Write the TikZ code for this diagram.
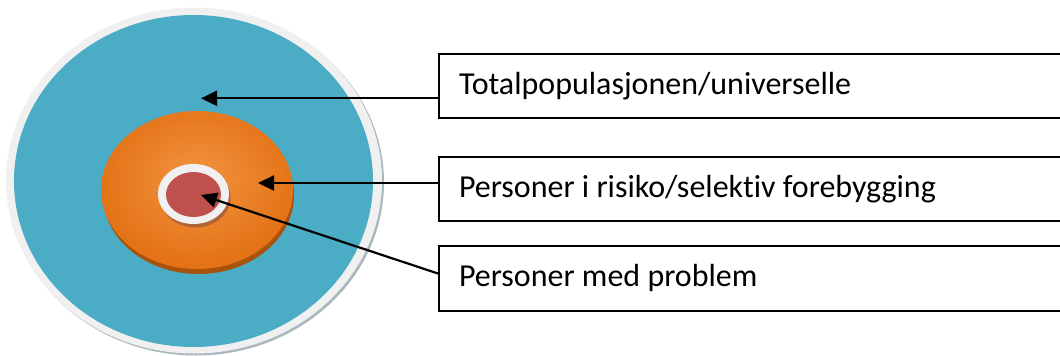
\documentclass[tikz,border=0pt]{standalone}
\usepackage{fontspec}
\setmainfont{Carlito}[Ligatures=NoCommon]
\usetikzlibrary{arrows.meta,calc}
\definecolor{discblue}{HTML}{4BACC6}
\definecolor{ringgrey}{HTML}{F0F0F0}
\definecolor{shadowgrey}{HTML}{A9B8BD}
\definecolor{orangeL}{HTML}{EF8E38}
\definecolor{orangeM}{HTML}{E47216}
\definecolor{orangeD}{HTML}{DC680B}
\definecolor{orangeEdge}{HTML}{A9520C}
\definecolor{innerred}{HTML}{C0504D}
\definecolor{ringshadow}{HTML}{B0643A}
\pgfdeclareradialshading{orangeglow}{\pgfpoint{0bp}{4bp}}{color(0bp)=(orangeL); color(5bp)=(orangeL); color(26bp)=(orangeM); color(50bp)=(orangeD); color(75bp)=(orangeD)}
\newcommand{\boxtext}[1]{\makebox[610pt][l]{#1}}
\tikzset{
  labelbox/.style={draw=black, line width=2pt, fill=white, anchor=north west,
    minimum height=64.6pt, inner xsep=20pt,
    font=\fontsize{32}{38}\selectfont},
  pointer/.style={draw=black, line width=2.2pt, -{Triangle[length=16pt,width=15pt]}}
}
\begin{document}
\begin{tikzpicture}[x=1pt,y=-1pt]
\path[use as bounding box] (0,0) rectangle (1060,356);
\clip (0,0) rectangle (1060,356);
% outer disc
\fill[shadowgrey] (196,182.5) ellipse [x radius=188, y radius=173];
\fill[ringgrey] (194,180.5) ellipse [x radius=188, y radius=173];
\fill[discblue] (193.5,181) ellipse [x radius=179.5, y radius=166];
% orange disc
\fill[orangeEdge] (198.5,195) ellipse [x radius=95.5, y radius=79];
\path[shading=orangeglow] (197,190) ellipse [x radius=96, y radius=79];
% inner ring and red core
\fill[ringshadow] (195.5,197.5) ellipse [x radius=35, y radius=30];
\fill[ringgrey] (193.5,194) ellipse [x radius=35.5, y radius=30];
\fill[innerred] (193.5,194.5) ellipse [x radius=27.5, y radius=22.5];
% label boxes
\node[labelbox] (b1) at (438,52.7) {\boxtext{Totalpopulasjonen/universelle}};
\node[labelbox] (b2) at (438,155.7) {\boxtext{Personer i risiko/selektiv forebygging}};
\node[labelbox] (b3) at (438,245) {\boxtext{Personer med problem}};
% arrow targets
\coordinate (t1) at (201,98.3);
\coordinate (t2) at (258,183);
\coordinate (t3) at (201,195);
\coordinate (s3) at ($(b3.west)+(0,-4.8)$);
\draw[pointer] (b1.west |- t1) -- (t1);
\draw[pointer] (b2.west |- t2) -- (t2);
\draw[pointer] (s3) -- (t3);
\end{tikzpicture}
\end{document}
